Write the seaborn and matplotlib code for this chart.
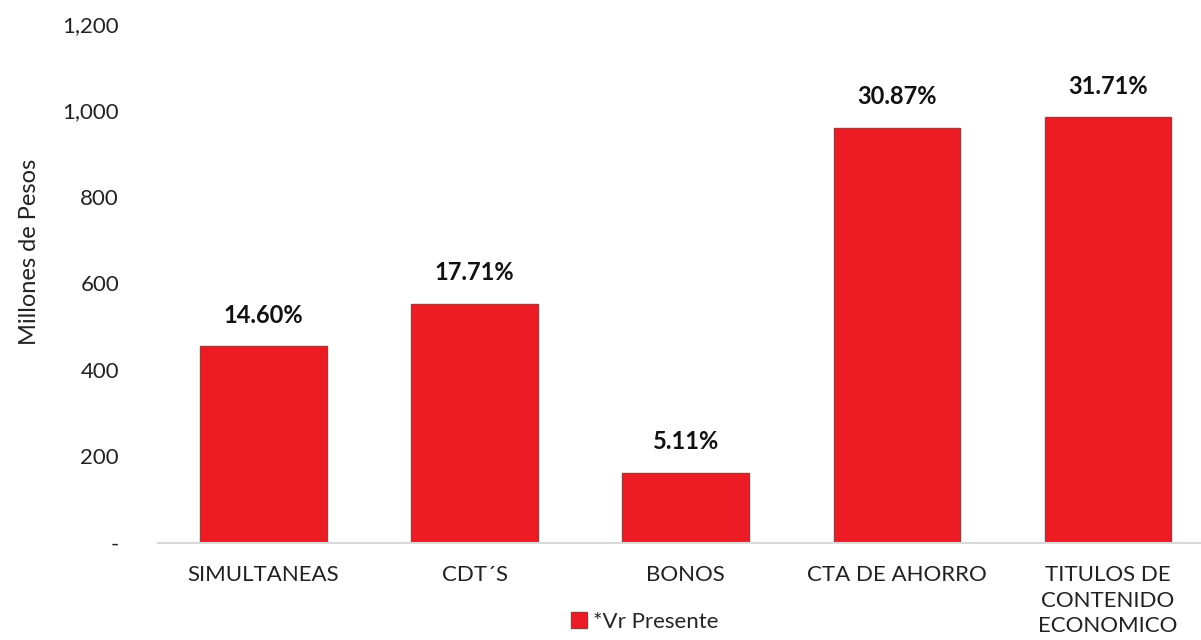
import matplotlib
matplotlib.use("Agg")
import matplotlib.pyplot as plt
import seaborn as sns
import pandas as pd
from matplotlib.ticker import FuncFormatter

categories = ["SIMULTANEAS", "CDT´S", "BONOS", "CTA DE AHORRO", "TITULOS DE\nCONTENIDO\nECONOMICO"]
values = [455, 553, 162, 960, 985]
pct_labels = ["14.60%", "17.71%", "5.11%", "30.87%", "31.71%"]
series_name = "*Vr Presente"
y_ticks = [0, 200, 400, 600, 800, 1000, 1200]

sns.set_theme(style="white")
plt.rcParams["font.family"] = ["Lato", "DejaVu Sans"]

df = pd.DataFrame({"cat": categories, "val": values, "serie": series_name})

fig = plt.figure(figsize=(12.01, 6.40), dpi=100)
ax = fig.add_axes([158/1201, 1 - 543/640, 1 - 158/1201, (543 - 24)/640])

sns.barplot(data=df, x="cat", y="val", hue="serie", palette=["#ED1C24"], saturation=1,
            width=0.6, edgecolor="#A03A3A", linewidth=1.0, ax=ax, legend=True)

ax.set_ylim(0, 1200)
ax.set_xlim(-0.5, 4.44)
ax.set_yticks(y_ticks)
ax.yaxis.set_major_formatter(FuncFormatter(lambda v, p: "-" if v == 0 else f"{int(v):,}"))
ax.tick_params(axis="y", length=0, pad=28, labelsize=16, labelcolor="#222222")
ax.tick_params(axis="x", length=0, pad=16, labelsize=16, labelcolor="#222222")
for lab in ax.get_xticklabels():
    lab.set_linespacing(1.33)
ax.set_xlabel("")
ax.set_ylabel("Millones de Pesos", fontsize=17, color="#222222")
ax.yaxis.set_label_coords(-0.113, 0.56)

for s in ["top", "right", "left"]:
    ax.spines[s].set_visible(False)
ax.spines["bottom"].set_color("#D9D9D9")
ax.spines["bottom"].set_linewidth(1.5)

for i, (v, t) in enumerate(zip(values, pct_labels)):
    ax.annotate(t, xy=(i, v), xytext=(0, 14), textcoords="offset points",
                ha="center", va="bottom", fontsize=17, fontweight="bold", color="#111111")

leg = ax.legend(loc="center", bbox_to_anchor=(645/1201, 1 - 622/640),
                bbox_transform=fig.transFigure, frameon=False, fontsize=16,
                handlelength=0.7, handleheight=0.7, handletextpad=0.3)

fig.savefig("out.png", dpi=100)
